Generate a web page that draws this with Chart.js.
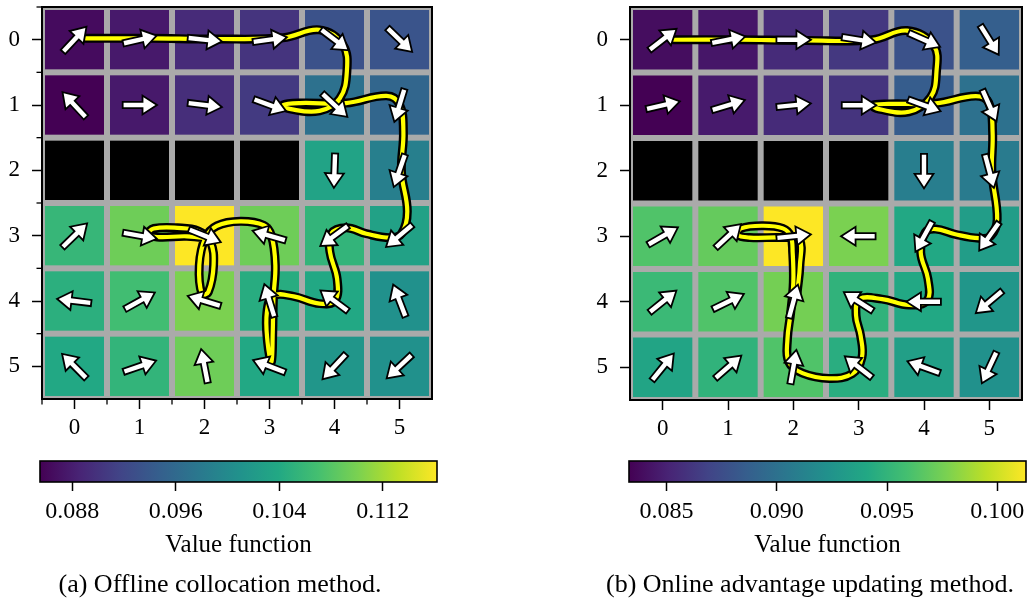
<!DOCTYPE html>
<html>
<head>
<meta charset="utf-8">
<script src="https://cdn.jsdelivr.net/npm/chart.js@4.4.1/dist/chart.umd.min.js"></script>
<style>
  html, body { margin: 0; padding: 0; background: #fff; }
  body { width: 1027px; height: 604px; overflow: hidden; position: relative; }
  canvas { position: absolute; }
  .caption {
    position: absolute; top: 569px; line-height: 30px;
    font-family: "Liberation Serif", serif; font-size: 26px; color: #000;
    white-space: nowrap; transform: translateX(-50%);
  }
</style>
</head>
<body>
<canvas id="gridOffline" width="445" height="445" style="left:0;top:0"></canvas>
<canvas id="gridOnline" width="439" height="445" style="left:588px;top:0"></canvas>
<canvas id="barOffline" width="460" height="120" style="left:0;top:440px"></canvas>
<canvas id="barOnline" width="439" height="120" style="left:588px;top:440px"></canvas>
<div class="caption" style="left:220px">(a) Offline collocation method.</div>
<div class="caption" style="left:810px">(b) Online advantage updating method.</div>

<script>
// ---- grid world: 6 x 6 states, rows top to bottom, columns left to right ----
const rowLabels = ['0', '1', '2', '3', '4', '5'];
const colLabels = ['0', '1', '2', '3', '4', '5'];

// value function per state (null = wall)
const valuesOffline = [
  [0.0864, 0.0876, 0.0892, 0.0901, 0.0932, 0.0935],
  [0.0855, 0.0876, 0.0895, 0.0907, 0.0969, 0.0956],
  [null,   null,   null,   null,   0.1033, 0.0987],
  [0.1058, 0.1094, 0.1162, 0.1094, 0.1055, 0.1030],
  [0.1048, 0.1067, 0.1101, 0.1045, 0.1039, 0.1009],
  [0.1039, 0.1055, 0.1094, 0.1039, 0.1015, 0.1009]
];
const valuesOnline = [
  [0.0839, 0.0844, 0.0855, 0.0862, 0.0878, 0.0887],
  [0.0833, 0.0846, 0.0855, 0.0860, 0.0886, 0.0900],
  [null,   null,   null,   null,   0.0909, 0.0907],
  [0.0963, 0.0970, 0.1013, 0.0977, 0.0941, 0.0932],
  [0.0954, 0.0963, 0.0975, 0.0949, 0.0941, 0.0927],
  [0.0938, 0.0949, 0.0963, 0.0945, 0.0934, 0.0923]
];

// greedy action direction per state, degrees counter-clockwise from east
const policyOffline = [
  [47, 13, -6, 8, -37, -44],
  [133, 0, -7, -20, -43, -107],
  [null, null, null, null, -92, -109],
  [44, -10, -22, 164, -144, -140],
  [173, 29, 163, 107, 143, 111],
  [135, 19, 101, 159, -133, -137]
];
const policyOnline = [
  [38, 11, 0, -9, -24, -58],
  [13, 17, 6, 0, -20, -66],
  [null, null, null, null, -90, -75],
  [30, 43, 6, 180, -119, -125],
  [39, 26, 75, 147, 180, -140],
  [51, 41, 80, 142, 160, -115]
];

// sampled trajectories (x = column, y = row)
const trajectoryOffline = [
  {x:0.17,y:-0.02},{x:1.17,y:-0.02},{x:2.19,y:-0.01},{x:3.21,y:-0.03},{x:3.77,y:-0.15},
  {x:4.13,y:0.08},{x:4.19,y:0.49},{x:4.08,y:0.90},{x:3.77,y:1.09},{x:3.31,y:1.06},
  {x:3.21,y:1.00},{x:3.47,y:0.97},{x:4.18,y:0.97},{x:4.80,y:0.86},{x:5.00,y:0.99},
  {x:5.06,y:1.41},{x:5.03,y:2.02},{x:5.12,y:2.63},{x:5.03,y:2.97},{x:4.85,y:3.03},
  {x:4.49,y:2.97},{x:4.18,y:2.88},{x:3.95,y:2.97},{x:3.93,y:3.25},{x:4.04,y:3.66},
  {x:4.01,y:3.99},{x:3.77,y:4.04},{x:3.37,y:3.93},{x:3.06,y:3.92},{x:2.96,y:4.17},
  {x:2.97,y:4.63},{x:3.03,y:4.93},{x:3.05,y:4.48},{x:3.06,y:3.96},{x:3.09,y:3.45},
  {x:3.03,y:3.00},{x:2.91,y:2.84},{x:2.55,y:2.78},{x:2.19,y:2.85},{x:2.01,y:3.04},
  {x:1.92,y:3.45},{x:1.96,y:3.89},{x:2.06,y:3.86},{x:2.14,y:3.45},{x:2.09,y:3.09},
  {x:1.91,y:2.93},{x:1.58,y:2.88},{x:1.22,y:2.89},{x:1.14,y:2.97},{x:1.27,y:3.02},
  {x:1.73,y:3.01},{x:2.14,y:3.05}
];
const trajectoryOnline = [
  {x:0.17,y:0.00},{x:1.17,y:0.00},{x:2.19,y:0.01},{x:3.21,y:0.00},{x:3.74,y:-0.14},
  {x:4.15,y:0.09},{x:4.19,y:0.50},{x:4.10,y:0.88},{x:3.77,y:1.10},{x:3.31,y:1.06},
  {x:3.21,y:1.00},{x:3.46,y:0.98},{x:4.18,y:0.97},{x:4.79,y:0.86},{x:4.99,y:0.96},
  {x:5.05,y:1.41},{x:5.04,y:2.02},{x:5.12,y:2.74},{x:5.02,y:3.00},{x:4.84,y:3.03},
  {x:4.48,y:2.97},{x:4.18,y:2.89},{x:4.02,y:2.94},{x:3.95,y:3.25},{x:4.06,y:3.65},
  {x:4.05,y:3.98},{x:3.77,y:4.05},{x:3.36,y:3.96},{x:3.01,y:3.96},{x:2.96,y:4.21},
  {x:3.03,y:4.52},{x:3.05,y:4.85},{x:2.90,y:5.10},{x:2.55,y:5.17},{x:2.14,y:5.09},
  {x:1.93,y:4.92},{x:1.91,y:4.57},{x:1.96,y:4.16},{x:2.00,y:3.70},{x:1.99,y:3.25},
  {x:1.96,y:3.00},{x:1.84,y:2.88},{x:1.53,y:2.84},{x:1.20,y:2.88},{x:1.15,y:2.98},
  {x:1.33,y:3.02},{x:1.84,y:3.02},{x:2.09,y:3.05},{x:2.10,y:3.45},{x:2.06,y:3.85}
];

// colour bar tick values
const barTicksOffline = [0.088, 0.096, 0.104, 0.112];
const barTicksOnline = [0.085, 0.090, 0.095, 0.100];

// ---- drawing helpers ----
const FONT = "'Liberation Serif', serif";
Chart.defaults.font.family = FONT;
Chart.defaults.color = '#000';

const VIRIDIS = ['#440154', '#482475', '#414487', '#355f8d', '#2a788e', '#21918c',
                 '#22a884', '#44bf70', '#7ad151', '#bddf26', '#fde725'];
function hexRgb(h) { return [1, 3, 5].map(i => parseInt(h.slice(i, i + 2), 16)); }
const VIRIDIS_RGB = VIRIDIS.map(hexRgb);
function viridis(t) {
  t = Math.max(0, Math.min(1, t));
  const f = t * (VIRIDIS_RGB.length - 1);
  const i = Math.min(Math.floor(f), VIRIDIS_RGB.length - 2);
  const u = f - i;
  const a = VIRIDIS_RGB[i], b = VIRIDIS_RGB[i + 1];
  const c = a.map((v, k) => Math.round(v + (b[k] - v) * u));
  return `rgb(${c[0]},${c[1]},${c[2]})`;
}
function range(values) {
  const flat = values.flat().filter(v => v !== null);
  return [Math.min(...flat), Math.max(...flat)];
}

// coloured state cells, separated by grey grid gaps, walls in black
const cellsPlugin = {
  id: 'cells',
  beforeDatasetsDraw(chart, args, opts) {
    const { ctx, chartArea: a, scales: { x, y } } = chart;
    const [lo, hi] = range(opts.values);
    const gap = 3;
    ctx.save();
    ctx.fillStyle = '#aaaaaa';
    ctx.fillRect(a.left, a.top, a.width, a.height);
    opts.values.forEach((row, r) => row.forEach((v, c) => {
      const x0 = x.getPixelForValue(c - 0.5), x1 = x.getPixelForValue(c + 0.5);
      const y0 = y.getPixelForValue(r - 0.5), y1 = y.getPixelForValue(r + 0.5);
      ctx.fillStyle = v === null ? '#000' : viridis((v - lo) / (hi - lo));
      ctx.fillRect(Math.min(x0, x1) + gap, Math.min(y0, y1) + gap,
                   Math.abs(x1 - x0) - 2 * gap, Math.abs(y1 - y0) - 2 * gap);
    }));
    ctx.restore();
  }
};

// policy arrows at state centres, white with black outline
const arrowsPlugin = {
  id: 'arrows',
  afterDatasetsDraw(chart, args, opts) {
    const { ctx, scales: { x, y } } = chart;
    const cell = Math.abs(x.getPixelForValue(1) - x.getPixelForValue(0));
    const L = cell * 0.49, sw = 2.2, hw = 7.8, hl = 12;
    ctx.save();
    opts.policy.forEach((row, r) => row.forEach((deg, c) => {
      if (deg === null) return;
      ctx.save();
      ctx.translate(x.getPixelForValue(c), y.getPixelForValue(r));
      ctx.rotate(-deg * Math.PI / 180);
      ctx.beginPath();
      ctx.moveTo(-L / 2, -sw);
      ctx.lineTo(L / 2 - hl, -sw);
      ctx.lineTo(L / 2 - hl, -hw);
      ctx.lineTo(L / 2, 0);
      ctx.lineTo(L / 2 - hl, hw);
      ctx.lineTo(L / 2 - hl, sw);
      ctx.lineTo(-L / 2, sw);
      ctx.closePath();
      ctx.lineJoin = 'miter';
      ctx.lineWidth = 3.6;
      ctx.strokeStyle = '#000';
      ctx.stroke();
      ctx.fillStyle = '#fff';
      ctx.fill();
      ctx.restore();
    }));
    ctx.restore();
  }
};

// axes frame and optional minor ticks on the cell boundaries
const framePlugin = {
  id: 'frame',
  afterDraw(chart, args, opts) {
    const { ctx, chartArea: a, scales: { x, y } } = chart;
    ctx.save();
    ctx.strokeStyle = '#000';
    if (opts.minor) {
      ctx.lineWidth = 1.3;
      opts.minor.forEach(v => {
        const px = x.getPixelForValue(v), py = y.getPixelForValue(v);
        ctx.beginPath(); ctx.moveTo(px, a.bottom); ctx.lineTo(px, a.bottom + 5.5); ctx.stroke();
        ctx.beginPath(); ctx.moveTo(a.left, py); ctx.lineTo(a.left - 5.5, py); ctx.stroke();
      });
    }
    ctx.lineWidth = 2;
    ctx.strokeRect(a.left, a.top, a.width, a.height);
    ctx.restore();
  }
};

function tickSetter(values) {
  return scale => { scale.ticks = values.map(v => ({ value: v })); };
}
// fixed axis thickness, no extra room reserved for overhanging labels
function fixedSize(prop, px) {
  return s => {
    s[prop] = px;
    s.paddingTop = 0; s.paddingBottom = 0; s.paddingLeft = 0; s.paddingRight = 0;
  };
}

function gridChart(id, values, policy, trajectory, size, minor) {
  const positions = [0, 1, 2, 3, 4, 5];
  return new Chart(document.getElementById(id), {
    type: 'scatter',
    data: {
      datasets: [
        { data: trajectory, showLine: true, tension: 0.4, pointRadius: 0,
          borderColor: '#ffff00', borderWidth: 4.2, borderCapStyle: 'round', borderJoinStyle: 'round' },
        { data: trajectory, showLine: true, tension: 0.4, pointRadius: 0,
          borderColor: '#000', borderWidth: 9, borderCapStyle: 'round', borderJoinStyle: 'round' }
      ]
    },
    options: {
      responsive: false, animation: false, events: [],
      layout: { padding: { top: 7, right: size.right, left: 0, bottom: 0 } },
      plugins: {
        legend: { display: false }, tooltip: { enabled: false },
        cells: { values }, arrows: { policy }, frame: { minor }
      },
      scales: {
        x: {
          type: 'linear', min: -0.5, max: 5.5,
          afterBuildTicks: tickSetter(positions),
          afterFit: fixedSize('height', size.xh),
          ticks: { callback: (v, i) => colLabels[i], font: { size: 23 }, color: '#000',
                   padding: 5, maxRotation: 0, autoSkip: false },
          grid: { drawOnChartArea: false, tickLength: 10, tickColor: '#000', tickWidth: 1.5 },
          border: { display: false }
        },
        y: {
          type: 'linear', min: -0.5, max: 5.5, reverse: true,
          afterBuildTicks: tickSetter(positions),
          afterFit: fixedSize('width', 42),
          ticks: { callback: (v, i) => rowLabels[i], font: { size: 23 }, color: '#000',
                   padding: 12, autoSkip: false },
          grid: { drawOnChartArea: false, tickLength: 10, tickColor: '#000', tickWidth: 1.5 },
          border: { display: false }
        }
      }
    },
    plugins: [cellsPlugin, arrowsPlugin, framePlugin]
  });
}

// horizontal viridis colour bar
const barPlugin = {
  id: 'bar',
  beforeDraw(chart) {
    const { ctx, chartArea: a } = chart;
    const g = ctx.createLinearGradient(a.left, 0, a.right, 0);
    VIRIDIS.forEach((c, i) => g.addColorStop(i / (VIRIDIS.length - 1), c));
    ctx.save();
    ctx.fillStyle = g;
    ctx.fillRect(a.left, a.top, a.width, a.height);
    ctx.restore();
  },
  afterDraw(chart) {
    const { ctx, chartArea: a } = chart;
    ctx.save();
    ctx.strokeStyle = '#000';
    ctx.lineWidth = 1.6;
    ctx.strokeRect(a.left, a.top, a.width, a.height);
    ctx.restore();
  }
};

function barChart(id, values, ticks, pad) {
  const [lo, hi] = range(values);
  return new Chart(document.getElementById(id), {
    type: 'scatter',
    data: { datasets: [] },
    options: {
      responsive: false, animation: false, events: [],
      layout: { padding: { left: pad.left, right: pad.right, top: 21, bottom: 0 } },
      plugins: { legend: { display: false }, tooltip: { enabled: false } },
      scales: {
        x: {
          type: 'linear', min: lo, max: hi,
          afterBuildTicks: tickSetter(ticks),
          afterFit: fixedSize('height', 78),
          ticks: { callback: v => v.toFixed(3), font: { size: 24 }, color: '#000',
                   padding: 6, maxRotation: 0, autoSkip: false },
          grid: { drawOnChartArea: false, tickLength: 9, tickColor: '#000', tickWidth: 1.5 },
          border: { display: false },
          title: { display: true, text: 'Value function', font: { size: 25 }, color: '#000',
                   padding: { top: 0, bottom: 0 } }
        },
        y: { display: false, min: 0, max: 1 }
      }
    },
    plugins: [barPlugin]
  });
}

gridChart('gridOffline', valuesOffline, policyOffline, trajectoryOffline,
          { right: 13, xh: 46 }, [-0.5, 0.5, 1.5, 2.5, 3.5, 4.5]);
gridChart('gridOnline', valuesOnline, policyOnline, trajectoryOnline,
          { right: 5, xh: 45 }, null);
barChart('barOffline', valuesOffline, barTicksOffline, { left: 40, right: 23 });
barChart('barOnline', valuesOnline, barTicksOnline, { left: 41, right: 1 });
</script>
</body>
</html>
